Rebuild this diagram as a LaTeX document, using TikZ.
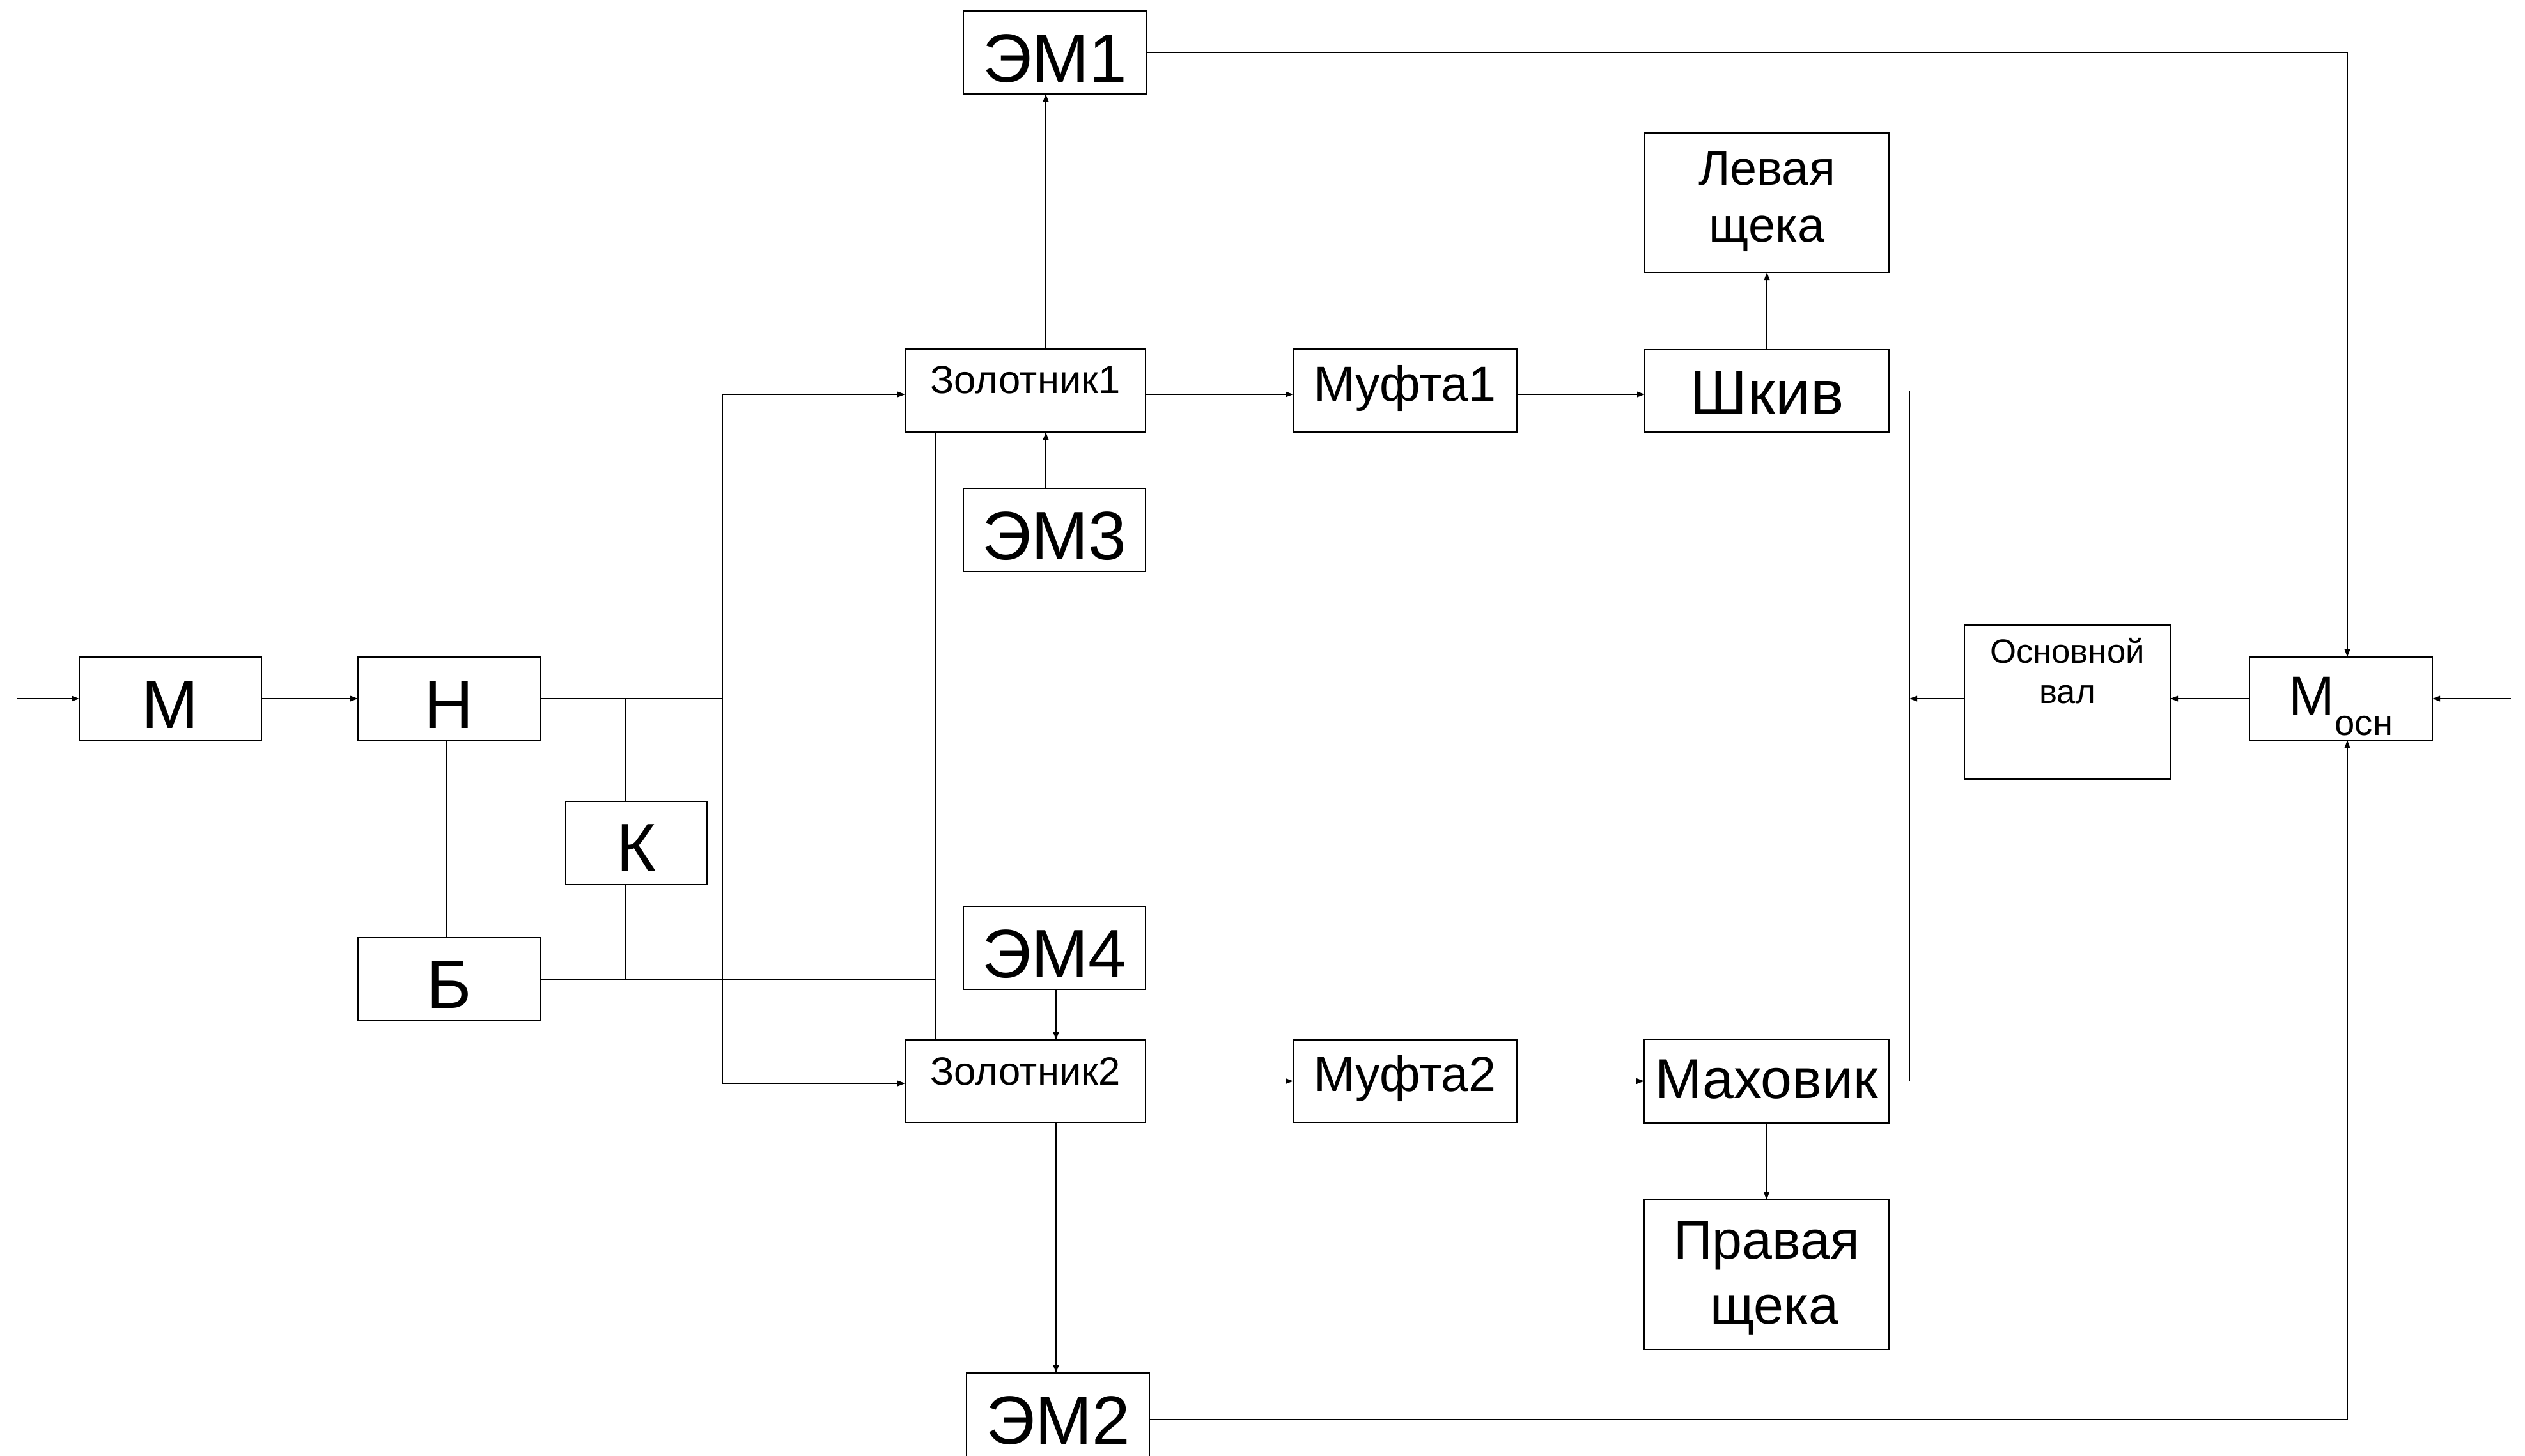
\documentclass[tikz,border=0pt]{standalone}
\usepackage{fontspec}
\setmainfont{Liberation Sans}
\usetikzlibrary{arrows.meta}
\newcommand\boxtext[4]{\parbox[c][#2][t]{#1}{\centering\rule{0pt}{#3}#4\par}}
\begin{document}
\begin{tikzpicture}[x=1cm,y=-1cm,
  blk/.style={draw, line width=0.5pt, inner sep=0pt, outer sep=0pt},
  conn/.style={line width=0.5pt},
  arr/.style={conn, -{Triangle[length=0.12cm,width=0.085cm]}},
  fbig/.style={font=\fontsize{30.5pt}{36pt}\selectfont},
  fzol/.style={font=\fontsize{17.5pt}{21pt}\selectfont},
  fmuf/.style={font=\fontsize{22pt}{26pt}\selectfont},
  fshk/.style={font=\fontsize{28pt}{33pt}\selectfont},
  flev/.style={font=\fontsize{21.5pt}{0.89cm}\selectfont},
  fmah/.style={font=\fontsize{25pt}{30pt}\selectfont},
  fpra/.style={font=\fontsize{24pt}{1.02cm}\selectfont},
  fval/.style={font=\fontsize{15pt}{0.63cm}\selectfont},
  fmos/.style={font=\fontsize{24.5pt}{29pt}\selectfont}]
\useasboundingbox (0,0) rectangle (39.5,22.77);

% blocks
\node[blk,fbig] (m)   at (2.665,10.93)  {\boxtext{2.85cm}{1.30cm}{1.11cm}{М}};
\node[blk,fbig] (n)   at (7.025,10.93)  {\boxtext{2.85cm}{1.30cm}{1.11cm}{Н}};
\node[blk,fbig] (k)   at (9.955,13.185) {\boxtext{2.21cm}{1.30cm}{1.10cm}{К}};
\node[blk,fbig] (b)   at (7.025,15.32)  {\boxtext{2.85cm}{1.30cm}{1.10cm}{Б}};
\node[blk,fzol] (z1)  at (16.04,6.11)   {\boxtext{3.76cm}{1.30cm}{0.69cm}{Золотник1}};
\node[blk,fbig] (em1) at (16.50,0.82)   {\boxtext{2.86cm}{1.30cm}{1.11cm}{ЭМ1}};
\node[blk,fbig] (em3) at (16.495,8.29)  {\boxtext{2.85cm}{1.30cm}{1.11cm}{ЭМ3}};
\node[blk,fbig] (em4) at (16.495,14.83) {\boxtext{2.85cm}{1.30cm}{1.11cm}{ЭМ4}};
\node[blk,fzol] (z2)  at (16.04,16.915) {\boxtext{3.76cm}{1.29cm}{0.70cm}{Золотник2}};
\node[blk,fbig] (em2) at (16.55,22.14)  {\boxtext{2.86cm}{1.32cm}{1.11cm}{ЭМ2}};
\node[blk,fmuf] (mf1) at (21.98,6.11)   {\boxtext{3.50cm}{1.30cm}{0.81cm}{Муфта1}};
\node[blk,fmuf] (mf2) at (21.98,16.915) {\boxtext{3.50cm}{1.29cm}{0.80cm}{Муфта2}};
\node[blk,fshk] (sh)  at (27.64,6.115)  {\boxtext{3.82cm}{1.29cm}{1.01cm}{Шкив}};
\node[blk,flev] (lv)  at (27.64,3.17)   {\boxtext{3.82cm}{2.18cm}{0.81cm}{Левая\\щека}};
\node[blk,fmah] (mh)  at (27.635,16.915){\boxtext{3.83cm}{1.31cm}{0.92cm}{Маховик}};
\node[blk,fpra] (pr)  at (27.635,19.94) {\boxtext{3.83cm}{2.34cm}{0.92cm}{Правая\\\hspace*{0.24cm}щека}};
\node[blk,fval] (ov)  at (32.34,10.985) {\boxtext{3.22cm}{2.41cm}{0.59cm}{Основной\\вал}};
\node[blk,fmos] (mo)  at (36.62,10.93)  {\boxtext{2.86cm}{1.30cm}{0.90cm}{М\raisebox{-0.32cm}{\fontsize{16pt}{19pt}\selectfont осн}}};

% helper coordinates
\coordinate (in1) at (0.27,10.93);
\coordinate (in2) at (39.28,10.93);
\coordinate (xb) at (11.30,0);
\coordinate (xk) at (9.79,0);
\coordinate (xn) at (6.98,0);
\coordinate (xv) at (14.63,0);
\coordinate (xe) at (16.36,0);
\coordinate (xf) at (16.52,0);
\coordinate (xw) at (29.87,0);
\coordinate (xm) at (36.72,0);
\coordinate (b1) at (11.30,6.17);
\coordinate (b2) at (11.30,16.95);
\coordinate (e2) at ([yshift=-0.07cm]em2.east);

% connectors
\draw[arr] (in1) -- (in1 -| m.west);
\draw[arr] (m.east) -- (n.west);
\draw[conn] (n.east) -- (n.east -| xb);
\draw[conn] (n.east -| xk) -- (k.north -| xk);
\draw[conn] (k.south -| xk) -- (b.east -| xk);
\draw[conn] (n.south -| xn) -- (b.north -| xn);
\draw[conn] (b.east) -- (b.east -| xv);
\draw[conn] (z1.south -| xv) -- (z2.north -| xv);
\draw[conn] (b1) -- (b2);
\draw[arr] (b1) -- (b1 -| z1.west);
\draw[arr] (b2) -- (b2 -| z2.west);
\draw[arr] (z1.north -| xe) -- (em1.south -| xe);
\draw[arr] (em3.north -| xe) -- (z1.south -| xe);
\draw[arr] (em4.south -| xf) -- (z2.north -| xf);
\draw[arr] (z2.south -| xf) -- (em2.north -| xf);
\draw[arr] (b1 -| z1.east) -- (b1 -| mf1.west);
\draw[arr] (b1 -| mf1.east) -- (b1 -| sh.west);
\draw[arr] (z2.east) -- (mf2.west);
\draw[arr] (mf2.east) -- (mh.west);
\draw[arr] (sh.north) -- (lv.south);
\draw[arr] (mh.south) -- (pr.north);
\draw[conn] (sh.east) -- (sh.east -| xw) -- (mh.east -| xw) -- (mh.east);
\draw[arr] (mo.west) -- (mo.west -| ov.east);
\draw[arr] (mo.west -| ov.west) -- (mo.west -| xw);
\draw[arr] (in2) -- (in2 -| mo.east);
\draw[arr] (em1.east) -- (em1.east -| xm) -- (mo.north -| xm);
\draw[arr] (e2) -- (e2 -| xm) -- (mo.south -| xm);
\end{tikzpicture}
\end{document}
